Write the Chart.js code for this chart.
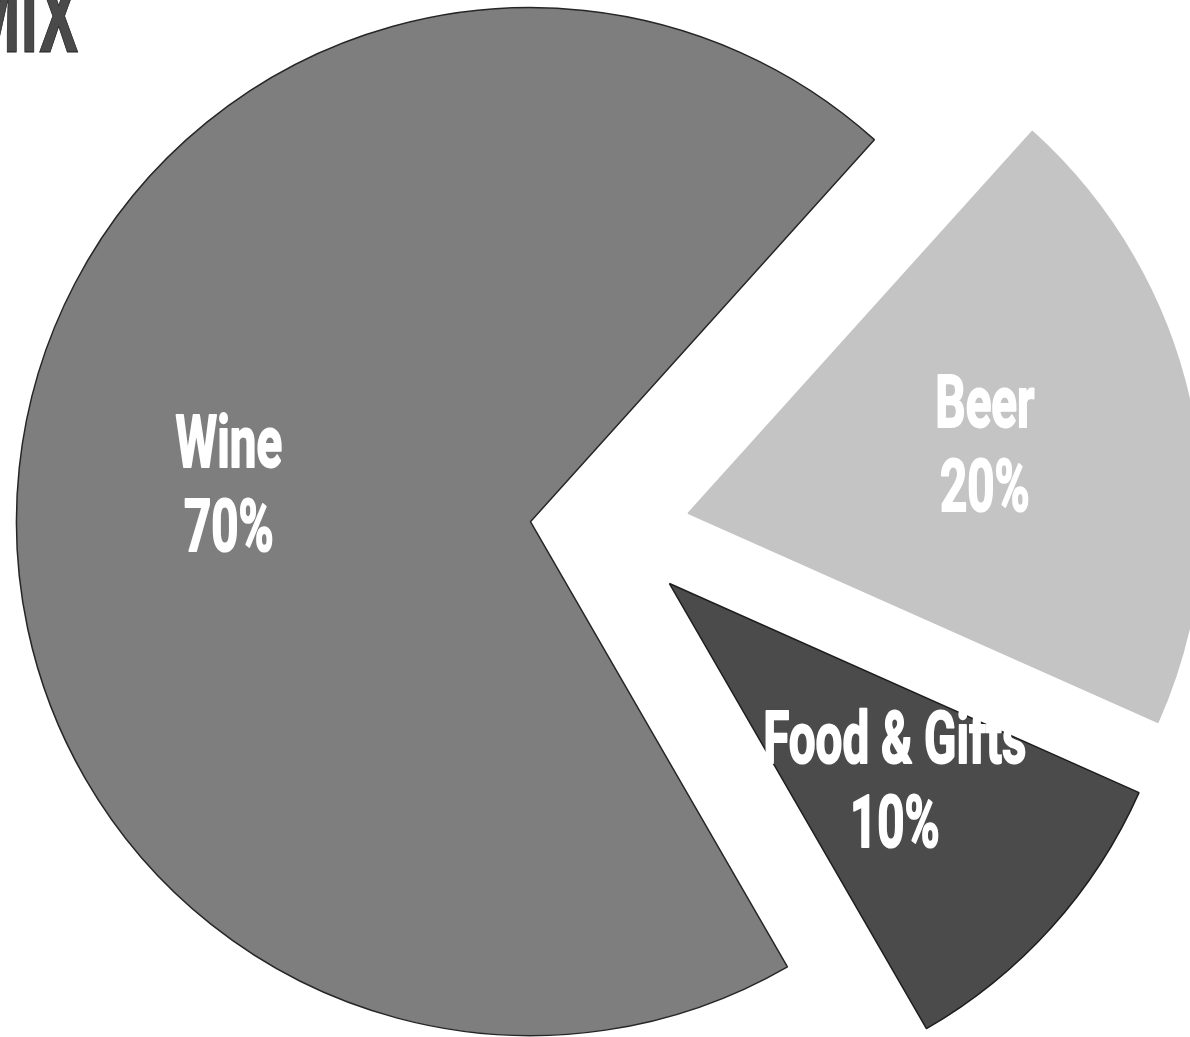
<!DOCTYPE html>
<html lang="en">
<head>
    <meta charset="UTF-8">
    <title>Sales Mix</title>
    <script src="https://cdn.jsdelivr.net/npm/chart.js"></script>
    <style>
        body {
            margin: 0;
            background: #fff;
            overflow: hidden;
        }

        #wrap {
            position: relative;
            width: 1190px;
            height: 1037px;
        }

        /* Title is cropped at the top-left corner in the original */
        #title {
            position: absolute;
            left: -34px;
            top: -32px;
            font-family: Roboto, sans-serif;
            font-weight: 700;
            font-size: 100px;
            line-height: 1;
            color: #4a4a4a;
            -webkit-text-stroke: 1px #1e1e1e;
            transform: scaleX(0.62);
            transform-origin: left top;
            white-space: nowrap;
        }
    </style>
</head>
<body>
    <div id="wrap">
        <canvas id="mixChart" width="1190" height="1037"></canvas>
        <div id="title">MIX</div>
    </div>

    <script>
        const categories = ['Wine', 'Beer', 'Food & Gifts'];
        const shares = [70, 20, 10];
        const sliceColors = ['#7e7e7e', '#c4c4c4', '#4b4b4b'];
        const edgeColors = ['#262626', '#c4c4c4', '#1e1e1e'];

        // how far each slice is pulled away from the centre (px)
        const explode = 80;

        // draw every arc shifted out along its own bisector
        const explodePlugin = {
            id: 'explode',
            beforeDatasetDraw(chart, args) {
                const ctx = chart.ctx;
                args.meta.data.forEach(arc => {
                    const mid = (arc.startAngle + arc.endAngle) / 2;
                    ctx.save();
                    ctx.translate(Math.cos(mid) * explode, Math.sin(mid) * explode);
                    arc.draw(ctx);
                    ctx.restore();
                });
                return false;
            }
        };

        // two-line labels in a narrow bold face
        const labelPlugin = {
            id: 'sliceLabels',
            afterDatasetsDraw(chart) {
                const ctx = chart.ctx;
                const meta = chart.getDatasetMeta(0);
                const total = shares.reduce((a, b) => a + b, 0);
                const fontSize = 72;
                const capHalf = fontSize * 0.711 / 2;
                const lineGap = 84;

                meta.data.forEach((arc, i) => {
                    const mid = (arc.startAngle + arc.endAngle) / 2;
                    const dist = explode + arc.outerRadius * 0.59;
                    const x = arc.x + Math.cos(mid) * dist;
                    const y = arc.y + Math.sin(mid) * dist - 7;
                    const pct = Math.round(shares[i] / total * 100) + '%';

                    ctx.save();
                    ctx.fillStyle = '#fff';
                    ctx.strokeStyle = '#fff';
                    ctx.lineWidth = 2;
                    ctx.lineJoin = 'round';
                    ctx.font = `700 ${fontSize}px Roboto, sans-serif`;
                    ctx.textAlign = 'center';
                    ctx.textBaseline = 'alphabetic';
                    ctx.translate(x, y);
                    ctx.scale(0.66, 1);
                    [[categories[i], -lineGap / 2], [pct, lineGap / 2]].forEach(([txt, dy]) => {
                        ctx.strokeText(txt, 0, dy + capHalf);
                        ctx.fillText(txt, 0, dy + capHalf);
                    });
                    ctx.restore();
                });
            }
        };

        new Chart(document.getElementById('mixChart'), {
            type: 'pie',
            data: {
                labels: categories,
                datasets: [{
                    data: shares,
                    backgroundColor: sliceColors,
                    borderColor: edgeColors,
                    borderWidth: 1.5,
                    clip: false
                }]
            },
            options: {
                responsive: false,
                animation: false,
                rotation: 150,
                radius: 514,
                layout: {
                    padding: { left: 30, top: 23, right: 0, bottom: 0 }
                },
                plugins: {
                    legend: { display: false },
                    tooltip: { enabled: false },
                    title: { display: false }
                }
            },
            plugins: [explodePlugin, labelPlugin]
        });
    </script>
</body>
</html>
